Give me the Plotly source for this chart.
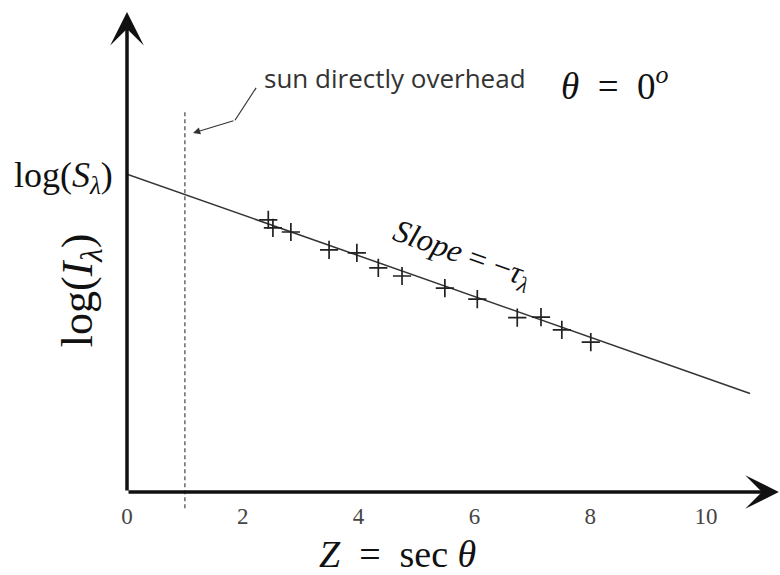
import plotly.graph_objects as go

# Measured log-intensity against air mass Z = sec(theta)
air_mass = [2.44, 2.52, 2.83, 3.49, 3.97, 4.34, 4.75, 5.49, 6.05, 6.74, 7.15, 7.51, 8.01]
log_intensity = [4.70, 4.56, 4.49, 4.18, 4.13, 3.87, 3.73, 3.52, 3.33, 3.01, 3.02, 2.80, 2.59]

# Langley fit line endpoints (intercept = log S at Z = 0)
fit_z = [0.0, 10.76]
fit_log_i = [5.49, 1.70]
log_s = 5.49

x_ticks = [0, 2, 4, 6, 8, 10]
x_tick_text = ["0", "2", "4", "6", "8", "10"]
overhead_z = 1.0

X_MAX = 11.278
Y_MAX = 8.497

SERIF = "Liberation Serif"
INK = "#222222"
EN = "\u2002"

fig = go.Figure()

fig.add_trace(go.Scatter(
    x=fit_z, y=fit_log_i, mode="lines",
    line=dict(color="#333333", width=1.5),
    hoverinfo="skip", showlegend=False,
))

fig.add_trace(go.Scatter(
    x=air_mass, y=log_intensity, mode="markers",
    marker=dict(symbol="cross-thin", size=13,
                line=dict(color=INK, width=1.7)),
    showlegend=False, cliponaxis=False,
))

# Vertical dashed marker at Z = 1 (sun at zenith)
fig.add_shape(type="line", xref="x", yref="paper",
              x0=overhead_z, x1=overhead_z, y0=-0.033, y1=0.776,
              line=dict(color="#444444", width=1.2, dash="4px,3px"))

# Leader line for the zenith label
fig.add_shape(type="line", xref="x", yref="y",
              x0=2.23, y0=6.98, x1=1.865, y1=6.42,
              line=dict(color="#333333", width=1.2))

annotations = [
    # axis arrows
    dict(x=X_MAX - 0.02, y=0, ax=0, ay=0, xref="x", yref="y", axref="x", ayref="y",
         text="", showarrow=True, arrowhead=3, arrowsize=1.6, arrowwidth=3.5,
         arrowcolor="#111111"),
    dict(x=0, y=8.29, ax=0, ay=0, xref="x", yref="y", axref="x", ayref="y",
         text="", showarrow=True, arrowhead=3, arrowsize=1.6, arrowwidth=3.5,
         arrowcolor="#111111"),
    # pointer to the dashed line
    dict(x=overhead_z + 0.14, y=6.20, ax=1.865, ay=6.42, xref="x", yref="y",
         axref="x", ayref="y", text="", showarrow=True, arrowhead=2,
         arrowsize=1.2, arrowwidth=1.2, arrowcolor="#333333"),
    dict(x=4.62, y=7.15, xref="x", yref="y", text="sun directly overhead",
         xanchor="center", yanchor="middle",
         showarrow=False, font=dict(family="Open Sans", size=26, color="#333333")),
    dict(x=8.43, y=7.05, xref="x", yref="y",
         text=f"<i>θ</i>{EN}={EN}0<sup><i>o</i></sup>",
         xanchor="center", yanchor="middle",
         showarrow=False, font=dict(family=SERIF, size=37, color="#111111")),
    dict(x=5.8, y=4.09, xref="x", yref="y",
         text="<i>Slope</i> = −<i>τ</i><sub><i>λ</i></sub>", textangle=19.4,
         xanchor="center", yanchor="middle",
         showarrow=False, font=dict(family=SERIF, size=32, color="#111111")),
    # axis titles
    dict(x=-0.07, y=3.49, xref="paper", yref="y",
         text="log(<i>I</i><sub><i>λ</i></sub>)", textangle=-90,
         xanchor="center", yanchor="middle",
         showarrow=False, font=dict(family=SERIF, size=44, color="#111111")),
    dict(x=4.68, y=-0.125, xref="x", yref="paper",
         text=f"<i>Z</i>{EN}={EN}sec <i>θ</i>",
         xanchor="center", yanchor="middle",
         showarrow=False, font=dict(family=SERIF, size=38, color="#111111")),
]

fig.update_layout(
    width=780, height=575,
    margin=dict(l=127, r=0, t=0, b=83),
    paper_bgcolor="white", plot_bgcolor="white",
    annotations=annotations,
    xaxis=dict(range=[0, X_MAX], tickvals=x_ticks, ticktext=x_tick_text,
               showgrid=False, zeroline=False, showline=False,
               ticks="outside", ticklen=3, tickcolor="rgba(0,0,0,0)",
               tickfont=dict(family=SERIF, size=23, color="#444444")),
    yaxis=dict(range=[0, Y_MAX], tickvals=[log_s],
               ticktext=["log(<i>S</i><sub><i>λ</i></sub>)"],
               showgrid=False, zeroline=False, showline=False,
               ticks="outside", ticklen=6, tickcolor="rgba(0,0,0,0)",
               tickfont=dict(family=SERIF, size=36, color="#111111")),
)

fig.write_html("out.html")
